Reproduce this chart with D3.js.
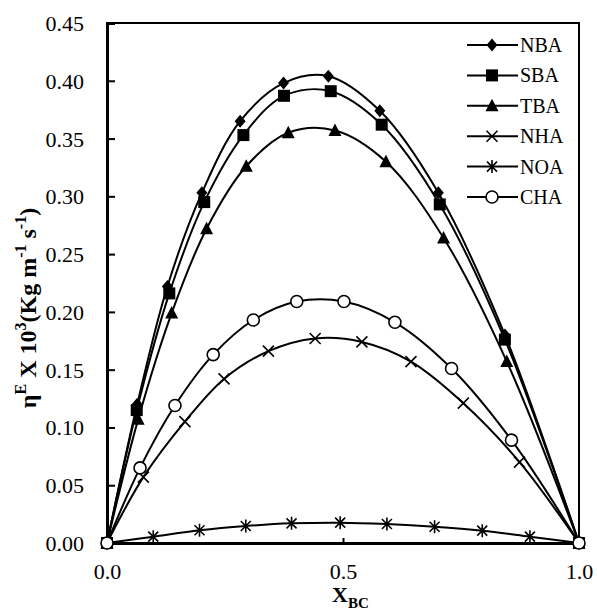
<!DOCTYPE html>
<html><head><meta charset="utf-8">
<script src="https://cdn.jsdelivr.net/npm/d3@7"></script>
<style>body{margin:0;background:#fff}svg{display:block}</style>
</head><body>
<svg id="c" width="597" height="614"></svg>
<script>
const seriesNames = ["NBA","SBA","TBA","NHA","NOA","CHA"];
const markerTypes = ["diamond","square","triangle","cross","star","circle"];
const nbaX = [0, 0.064, 0.128, 0.201, 0.282, 0.374, 0.469, 0.578, 0.702, 0.843, 1.0];
const nbaY = [0, 0.120, 0.222, 0.303, 0.365, 0.398, 0.404, 0.374, 0.303, 0.180, 0];
const sbaX = [0, 0.063, 0.132, 0.206, 0.289, 0.375, 0.474, 0.582, 0.705, 0.843, 1.0];
const sbaY = [0, 0.115, 0.216, 0.295, 0.353, 0.387, 0.391, 0.362, 0.293, 0.176, 0];
const tbaX = [0, 0.066, 0.137, 0.211, 0.295, 0.384, 0.483, 0.591, 0.713, 0.847, 1.0];
const tbaY = [0, 0.107, 0.199, 0.272, 0.326, 0.355, 0.357, 0.330, 0.264, 0.157, 0];
const nhaX = [0, 0.077, 0.165, 0.248, 0.342, 0.441, 0.540, 0.644, 0.755, 0.874, 1.0];
const nhaY = [0, 0.057, 0.105, 0.142, 0.166, 0.177, 0.174, 0.157, 0.121, 0.070, 0];
const noaX = [0, 0.098, 0.196, 0.294, 0.391, 0.494, 0.593, 0.694, 0.795, 0.896, 1.0];
const noaY = [0, 0.0055, 0.011, 0.0147, 0.017, 0.0176, 0.0164, 0.0141, 0.0107, 0.0055, 0];
const chaX = [0, 0.070, 0.144, 0.225, 0.310, 0.402, 0.502, 0.610, 0.730, 0.857, 1.0];
const chaY = [0, 0.065, 0.119, 0.163, 0.193, 0.209, 0.209, 0.191, 0.151, 0.089, 0];
const yTicks = [0,0.05,0.10,0.15,0.20,0.25,0.30,0.35,0.40,0.45];
const xTicks = [0,0.5,1.0];

const FONT = "'Liberation Serif','Times New Roman',serif";
const seriesX = [nbaX,sbaX,tbaX,nhaX,noaX,chaX];
const seriesY = [nbaY,sbaY,tbaY,nhaY,noaY,chaY];
const series = seriesNames.map((n,i)=>({name:n, marker:markerTypes[i], pts: seriesX[i].map((x,j)=>({x, y:seriesY[i][j]}))}));

const L=107, R=579, T=23, B=543;
const svg = d3.select("#c");
const x = d3.scaleLinear().domain([0,1]).range([L,R]);
const y = d3.scaleLinear().domain([0,0.45]).range([B,T]);

svg.append("rect").attr("x",L).attr("y",T).attr("width",R-L).attr("height",B-T)
  .attr("fill","none").attr("stroke","#000").attr("stroke-width",2);

const yAx = svg.append("g").attr("transform",`translate(${L},0)`)
  .call(d3.axisLeft(y).tickValues(yTicks).tickFormat(d3.format(".2f")).tickSize(-8).tickPadding(23));
const xAx = svg.append("g").attr("transform",`translate(0,${B})`)
  .call(d3.axisBottom(x).tickValues(xTicks).tickFormat(d3.format(".1f")).tickSize(-5).tickPadding(20));
[yAx,xAx].forEach(a=>{
  a.attr("font-family",null);
  a.select(".domain").attr("stroke","#000").attr("stroke-width",3);
  a.selectAll(".tick line").attr("stroke","#000").attr("stroke-width",2);
  a.selectAll(".tick text").attr("fill","#000").style("font-family",FONT).style("font-size","22px");
});
yAx.selectAll(".tick text").attr("dy","0.34em");

const line = d3.line().x(d=>x(d.x)).y(d=>y(d.y)).curve(d3.curveCatmullRom.alpha(0.5));
series.forEach(s=>{
  svg.append("path").attr("d",line(s.pts)).attr("fill","none").attr("stroke","#000").attr("stroke-width",2);
});

function marker(g, type, cx, cy){
  const k = g.append("g").attr("transform",`translate(${cx},${cy})`);
  if(type==="diamond") k.append("path").attr("d","M0,-6.5L5.5,0L0,6.5L-5.5,0Z").attr("fill","#000");
  else if(type==="square") k.append("rect").attr("x",-6).attr("y",-6).attr("width",12).attr("height",12).attr("fill","#000");
  else if(type==="triangle") k.append("path").attr("d","M0,-7L6.5,5.5L-6.5,5.5Z").attr("fill","#000");
  else if(type==="cross") k.append("path").attr("d","M-5.5,-5.5L5.5,5.5M-5.5,5.5L5.5,-5.5").attr("stroke","#000").attr("stroke-width",1.6);
  else if(type==="star") k.append("path").attr("d","M-5,-5L5,5M-5,5L5,-5M0,-6.5L0,6.5").attr("stroke","#000").attr("stroke-width",1.6);
  else if(type==="circle") k.append("circle").attr("r",6).attr("fill","#fff").attr("stroke","#000").attr("stroke-width",1.6);
}
series.forEach(s=>{
  const g = svg.append("g");
  s.pts.forEach(p=>marker(g, s.marker, x(p.x), y(p.y)));
});

series.forEach((s,i)=>{
  const ly = 45 + i*30.4;
  svg.append("line").attr("x1",467).attr("x2",518).attr("y1",ly).attr("y2",ly).attr("stroke","#000").attr("stroke-width",2);
  marker(svg, s.marker, 492, ly);
  svg.append("text").attr("x",520).attr("y",ly+7).style("font-family",FONT).style("font-size","20px").text(s.name);
});

const xt = svg.append("text").attr("x",332).attr("y",602).style("font-family",FONT).style("font-size","22px").attr("font-weight","bold");
xt.append("tspan").text("X");
xt.append("tspan").style("font-size","15px").attr("dy",6).text("BC");

const yt = svg.append("text").attr("transform","translate(36,308) rotate(-90)").attr("text-anchor","middle")
  .style("font-family",FONT).style("font-size","24px").attr("font-weight","bold");
yt.append("tspan").text("η");
yt.append("tspan").style("font-size","16px").attr("dy",-10).text("E");
yt.append("tspan").attr("dy",10).text(" X 10");
yt.append("tspan").style("font-size","16px").attr("dy",-10).text("3");
yt.append("tspan").attr("dy",10).text("(Kg m");
yt.append("tspan").style("font-size","16px").attr("dy",-10).text("-1");
yt.append("tspan").attr("dy",10).text(" s");
yt.append("tspan").style("font-size","16px").attr("dy",-10).text("-1");
yt.append("tspan").attr("dy",10).text(")");
</script>
</body></html>
